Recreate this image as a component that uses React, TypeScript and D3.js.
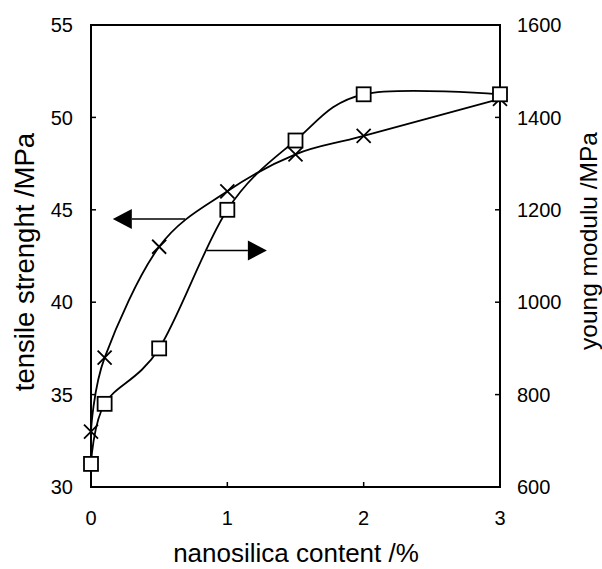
import React from "react";
import * as d3 from "d3";

// nanosilica content (%)
const contents = [0, 0.1, 0.5, 1, 1.5, 2, 3];
// tensile strength (MPa), left axis, "x" markers
const tensile = [33, 37, 43, 46, 48, 49, 51];
// young modulus (MPa), right axis, square markers
const young = [650, 780, 900, 1200, 1350, 1450, 1450];

const xTicks = [0, 1, 2, 3];
const leftTicks = [30, 35, 40, 45, 50, 55];
const rightTicks = [600, 800, 1000, 1200, 1400, 1600];

// annotation arrows, in data units (x, tensile)
const leftArrow = { x0: 0.69, x1: 0.16, y: 44.5 };
const rightArrow = { x0: 0.85, x1: 1.29, y: 42.8 };

const W = 602, H = 569;
const m = { left: 91, right: 500, top: 25, bottom: 487 };
const font = "'Liberation Sans', Arial, sans-serif";

export default function App() {
  const x = d3.scaleLinear().domain([0, 3]).range([m.left, m.right]);
  const yL = d3.scaleLinear().domain([30, 55]).range([m.bottom, m.top]);
  const yR = d3.scaleLinear().domain([600, 1600]).range([m.bottom, m.top]);

  const curve = d3.curveCardinal.tension(0);
  const tLine = d3.line<number>().x((_, i) => x(contents[i])).y((d) => yL(d)).curve(curve);
  const yLine = d3.line<number>().x((_, i) => x(contents[i])).y((d) => yR(d)).curve(curve);

  const arrow = (a: { x0: number; x1: number; y: number }, key: string) => {
    const xs = x(a.x0), xe = x(a.x1), yy = yL(a.y);
    const dir = xe > xs ? 1 : -1;
    const hl = 19, hw = 10;
    return (
      <g key={key}>
        <line x1={xs} y1={yy} x2={xe - dir * hl} y2={yy} stroke="#000" strokeWidth={1.5} />
        <path d={`M${xe},${yy} L${xe - dir * hl},${yy - hw} L${xe - dir * hl},${yy + hw} Z`} fill="#000" />
      </g>
    );
  };

  return (
    <svg width={W} height={H} style={{ position: "absolute", left: 0, top: 0, background: "#fff" }}>
      <rect x={0} y={0} width={W} height={H} fill="#fff" />
      {/* frame */}
      <rect x={m.left} y={m.top} width={m.right - m.left} height={m.bottom - m.top} fill="none" stroke="#000" strokeWidth={2} />

      {/* ticks */}
      {leftTicks.map((t) => (
        <g key={"l" + t}>
          <line x1={m.left} x2={m.left + 5} y1={yL(t)} y2={yL(t)} stroke="#000" strokeWidth={1.5} />
          <text x={m.left - 18} y={yL(t)} dy="0.36em" textAnchor="end" fontFamily={font} fontSize={20}>{t}</text>
        </g>
      ))}
      {rightTicks.map((t) => (
        <g key={"r" + t}>
          <line x1={m.right - 5} x2={m.right} y1={yR(t)} y2={yR(t)} stroke="#000" strokeWidth={1.5} />
          <text x={m.right + 17} y={yR(t)} dy="0.36em" textAnchor="start" fontFamily={font} fontSize={20}>{t}</text>
        </g>
      ))}
      {xTicks.map((t) => (
        <g key={"x" + t}>
          <line x1={x(t)} x2={x(t)} y1={m.bottom} y2={m.bottom - 5} stroke="#000" strokeWidth={1.5} />
          <text x={x(t)} y={525} textAnchor="middle" fontFamily={font} fontSize={20}>{t}</text>
        </g>
      ))}

      {/* curves */}
      <path d={tLine(tensile) || ""} fill="none" stroke="#000" strokeWidth={1.8} />
      <path d={yLine(young) || ""} fill="none" stroke="#000" strokeWidth={1.8} />

      {/* markers */}
      {tensile.map((v, i) => {
        const cx = x(contents[i]), cy = yL(v), s = 7;
        return (
          <path key={"t" + i} d={`M${cx - s},${cy - s}L${cx + s},${cy + s}M${cx - s},${cy + s}L${cx + s},${cy - s}`} stroke="#000" strokeWidth={1.8} />
        );
      })}
      {young.map((v, i) => {
        const cx = x(contents[i]), cy = yR(v), s = 7;
        return <rect key={"y" + i} x={cx - s} y={cy - s} width={2 * s} height={2 * s} fill="#fff" stroke="#000" strokeWidth={1.8} />;
      })}

      {arrow(leftArrow, "la")}
      {arrow(rightArrow, "ra")}

      {/* axis titles */}
      <text transform="translate(34,262) rotate(-90)" textAnchor="middle" fontFamily={font} fontSize={27.5}>tensile strenght /MPa</text>
      <text transform="translate(597,241) rotate(-90)" textAnchor="middle" fontFamily={font} fontSize={24.5}>young modulu /MPa</text>
      <text x={296} y={562} textAnchor="middle" fontFamily={font} fontSize={26}>nanosilica content /%</text>
    </svg>
  );
}
